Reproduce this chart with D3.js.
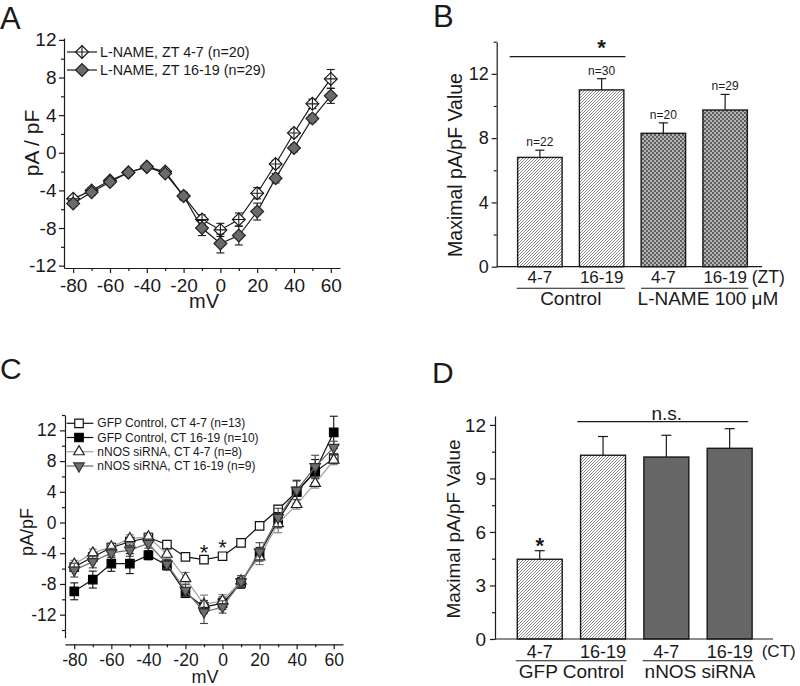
<!DOCTYPE html>
<html><head><meta charset="utf-8">
<script src="https://cdn.jsdelivr.net/npm/d3@7"></script>
<style>body{margin:0;background:#fff;} svg{display:block;font-family:"Liberation Sans",Arial,sans-serif;}</style>
</head><body><svg id="c" width="800" height="686"></svg>
<script>
// ---------- DATA ----------
const voltages = [-80,-70,-60,-50,-40,-30,-20,-10,0,10,20,30,40,50,60];
const voltMajor = [-80,-60,-40,-20,0,20,40,60];
const voltMinor = [-70,-50,-30,-10,10,30,50];

// Panel A
const aLabels = ["L-NAME, ZT 4-7 (n=20)", "L-NAME, ZT 16-19 (n=29)"];
const aZT47     = [-4.9,-4.0,-2.95,-2.1,-1.5,-2.0,-4.6,-7.1,-8.2,-7.1,-4.3,-1.2,2.1,5.2,7.85];
const aZT47Err  = [0.3,0.3,0.3,0.3,0.3,0.3,0.4,0.5,0.7,0.7,0.6,0.4,0.4,0.5,1.0];
const aZT1619   = [-5.4,-4.2,-3.1,-2.1,-1.5,-2.2,-4.6,-8.0,-9.65,-8.8,-6.25,-2.7,0.5,3.65,6.05];
const aZT1619Err= [0.3,0.3,0.3,0.3,0.3,0.3,0.4,0.8,1.0,1.0,0.9,0.5,0.4,0.4,0.8];
const aYMajor = [-12,-8,-4,0,4,8,12];
const aYMinor = [-10,-6,-2,2,6,10];

// Panel B
const bCats   = ["Control 4-7","Control 16-19","L-NAME 4-7","L-NAME 16-19"];
const bTicks  = ["4-7","16-19","4-7","16-19"];
const bValues = [6.8, 11.0, 8.3, 9.75];
const bErr    = [0.45, 0.7, 0.65, 0.97];
const bN      = ["n=22","n=30","n=20","n=29"];
const bGroups = ["Control","L-NAME 100 \u03BCM"];
const bYMajor = [0,4,8,12];
const bYMinor = [2,6,10,14];

// Panel C
const cLabels = ["GFP Control, CT 4-7 (n=13)","GFP Control, CT 16-19 (n=10)","nNOS siRNA, CT 4-7 (n=8)","nNOS siRNA, CT 16-19 (n=9)"];
const cGfp47      = [-5.8,-4.5,-3.26,-2.5,-1.96,-2.87,-4.48,-4.83,-4.39,-2.65,-0.43,1.7,4.0,6.6,8.35];
const cGfp47Err   = [0.5,0.5,0.5,0.5,0.4,0.4,0.4,0.4,0.4,0.4,0.4,0.5,0.6,0.8,0.6];
const cGfp1619    = [-8.96,-7.43,-5.35,-5.35,-4.26,-5.57,-9.17,-11.0,-10.5,-7.87,-4.04,0.3,4.0,6.7,11.74];
const cGfp1619Err = [1.1,1.1,1.0,1.3,0.6,0.6,0.6,0.8,0.8,0.7,0.8,1.0,1.5,1.5,2.1];
const cSi47       = [-5.43,-3.96,-3.17,-2.1,-1.87,-4.13,-7.3,-10.65,-10.2,-7.6,-4.48,-0.13,2.35,5.09,8.13];
const cSi47Err    = [0.5,0.5,0.5,0.5,0.5,0.6,0.8,1.2,0.8,0.7,1.0,1.2,0.6,0.6,0.6];
const cSi1619     = [-6.2,-5.1,-3.96,-3.6,-2.74,-5.43,-8.83,-11.65,-11.0,-7.74,-3.83,0.65,4.2,7.26,9.78];
const cSi1619Err  = [0.9,0.8,0.6,0.8,0.6,0.6,0.8,1.5,0.8,0.8,1.2,1.2,1.2,1.5,0.8];
const cStarVolts  = [-10, 0];
const cYMajor = [-12,-8,-4,0,4,8,12];
const cYMinor = [-14,-10,-6,-2,2,6,10,14];

// Panel D
const dCats   = ["GFP 4-7","GFP 16-19","nNOS 4-7","nNOS 16-19"];
const dTicks  = ["4-7","16-19","4-7","16-19"];
const dValues = [4.47, 10.3, 10.2, 10.69];
const dErr    = [0.48, 1.05, 1.22, 1.1];
const dGroups = ["GFP Control","nNOS siRNA"];
const dYMajor = [0,3,6,9,12];
const dYMinor = [1.5,4.5,7.5,10.5];

// ---------- SETUP ----------
const svg = d3.select("#c");
const defs = svg.append("defs");
const ph = defs.append("pattern").attr("id","hatch").attr("patternUnits","userSpaceOnUse").attr("width",3).attr("height",3);
ph.append("rect").attr("width",3).attr("height",3).attr("fill","#fff");
ph.append("path").attr("d","M-1,1 L1,-1 M0,3 L3,0 M2,4 L4,2").attr("stroke","#858585").attr("stroke-width",0.95);
const pc = defs.append("pattern").attr("id","checker").attr("patternUnits","userSpaceOnUse").attr("width",4).attr("height",4);
pc.append("rect").attr("width",4).attr("height",4).attr("fill","#b4b4b4");
pc.append("rect").attr("width",2).attr("height",2).attr("fill","#5e5e5e");
pc.append("rect").attr("x",2).attr("y",2).attr("width",2).attr("height",2).attr("fill","#5e5e5e");

const INK = "#1a1a1a";
function styleAxis(g, fs) {
  g.attr("font-family", null).attr("font-size", fs);
  g.selectAll(".domain").attr("stroke", INK).attr("stroke-width", 1.2);
  g.selectAll(".tick line").attr("stroke", INK).attr("stroke-width", 1.2);
  g.selectAll(".tick text").attr("fill", INK);
}
function leftAxis(y, x0, major, minor, fs, pad) {
  const a = svg.append("g").attr("transform", `translate(${x0},0)`)
    .call(d3.axisLeft(y).tickValues(major).tickSize(5).tickSizeOuter(0).tickPadding(pad).tickFormat(d => String(d)));
  styleAxis(a, fs);
  const m = svg.append("g").attr("transform", `translate(${x0},0)`)
    .call(d3.axisLeft(y).tickValues(minor).tickSize(3).tickFormat(""));
  m.select(".domain").remove(); styleAxis(m, fs);
}
function bottomAxis(x, y0, major, minor, fs, pad) {
  const a = svg.append("g").attr("transform", `translate(0,${y0})`)
    .call(d3.axisBottom(x).tickValues(major).tickSize(5).tickSizeOuter(0).tickPadding(pad).tickFormat(d => String(d)));
  styleAxis(a, fs);
  const m = svg.append("g").attr("transform", `translate(0,${y0})`)
    .call(d3.axisBottom(x).tickValues(minor).tickSize(3).tickFormat(""));
  m.select(".domain").remove(); styleAxis(m, fs);
}
function txt(x, y, s, fs, opt = {}) {
  const t = svg.append("text").attr("x", x).attr("y", y).attr("font-size", fs).attr("fill", INK).text(s);
  if (opt.anchor) t.attr("text-anchor", opt.anchor);
  if (opt.central !== false) t.attr("dominant-baseline", "central");
  if (opt.rotate) t.attr("transform", `rotate(-90,${x},${y})`);
  return t;
}
function errBars(g, xs, ys, errs, x, y, color, cap) {
  xs.forEach((v, i) => {
    const cx = x(v), y1 = y(ys[i] - errs[i]), y2 = y(ys[i] + errs[i]);
    g.append("line").attr("x1", cx).attr("x2", cx).attr("y1", y1).attr("y2", y2).attr("stroke", color).attr("stroke-width", 1.1);
    [y1, y2].forEach(yy => g.append("line").attr("x1", cx - cap/2).attr("x2", cx + cap/2).attr("y1", yy).attr("y2", yy).attr("stroke", color).attr("stroke-width", 1.1));
  });
}
function seriesLine(g, xs, ys, x, y, color) {
  g.append("path").datum(xs.map((v, i) => [v, ys[i]]))
    .attr("d", d3.line().x(d => x(d[0])).y(d => y(d[1])))
    .attr("fill", "none").attr("stroke", color).attr("stroke-width", 1.2);
}

// ---------- PANEL A ----------
const xA = d3.scaleLinear().domain([-85, 65]).range([64, 340]);
const yA = d3.scaleLinear().domain([-12.25, 12.2]).range([268, 38]);
leftAxis(yA, 64, aYMajor, aYMinor, 19, 2.5);
bottomAxis(xA, 268, voltMajor, voltMinor, 19, 5.8);
const gA = svg.append("g");
const diamond = d3.symbol(d3.symbolSquare, 82);
function openDiamond(g, cx, cy) {
  g.append("path").attr("d", diamond()).attr("transform", `translate(${cx},${cy}) rotate(45)`).attr("fill", "#fff").attr("stroke", INK).attr("stroke-width", 1.2);
  g.append("path").attr("d", `M${cx-6.4},${cy}H${cx+6.4}M${cx},${cy-6.4}V${cy+6.4}`).attr("stroke", INK).attr("stroke-width", 1.1);
}
function filledDiamond(g, cx, cy) {
  g.append("path").attr("d", diamond()).attr("transform", `translate(${cx},${cy}) rotate(45)`).attr("fill", "#6b6b6b").attr("stroke", "#222").attr("stroke-width", 1.2);
}
errBars(gA, voltages, aZT47, aZT47Err, xA, yA, INK, 8);
seriesLine(gA, voltages, aZT47, xA, yA, INK);
voltages.forEach((v, i) => openDiamond(gA, xA(v), yA(aZT47[i])));
errBars(gA, voltages, aZT1619, aZT1619Err, xA, yA, INK, 8);
seriesLine(gA, voltages, aZT1619, xA, yA, INK);
voltages.forEach((v, i) => filledDiamond(gA, xA(v), yA(aZT1619[i])));
// legend A
[52, 70].forEach((ly, i) => {
  gA.append("line").attr("x1", 67).attr("x2", 97).attr("y1", ly).attr("y2", ly).attr("stroke", INK).attr("stroke-width", 1.2);
  if (i === 0) openDiamond(gA, 82, ly); else filledDiamond(gA, 82, ly);
  txt(100, ly, aLabels[i], 14.3);
});
txt(31.5, 143, "pA / pF", 21, {anchor: "middle", rotate: true});
txt(204, 301, "mV", 20, {anchor: "middle"});
txt(0, 29, "A", 31, {central: false});

// ---------- PANEL B ----------
const yB = d3.scaleLinear().domain([0, 14]).range([266.7, 41.7]);
const xB = d3.scaleBand().domain(bCats).range([509, 756]).paddingInner(0.28).paddingOuter(0.14);
const bw = xB.bandwidth();
const gB = svg.append("g");
bCats.forEach((c, i) => {
  const cx = xB(c) + bw/2;
  gB.append("line").attr("x1", cx).attr("x2", cx).attr("y1", yB(bValues[i])).attr("y2", yB(bValues[i] + bErr[i])).attr("stroke", INK).attr("stroke-width", 1.2);
  gB.append("line").attr("x1", cx - 4.5).attr("x2", cx + 4.5).attr("y1", yB(bValues[i] + bErr[i])).attr("y2", yB(bValues[i] + bErr[i])).attr("stroke", INK).attr("stroke-width", 1.2);
  gB.append("rect").attr("x", xB(c)).attr("y", yB(bValues[i])).attr("width", bw).attr("height", yB(0) - yB(bValues[i]))
    .attr("fill", i < 2 ? "url(#hatch)" : "url(#checker)").attr("stroke", INK).attr("stroke-width", 1.4);
  txt(cx, yB(bValues[i] + bErr[i]) - 8, bN[i], 12, {anchor: "middle"});
  txt(cx, 277, bTicks[i], 17, {anchor: "middle"});
});
leftAxis(yB, 496.7, bYMajor, bYMinor, 18, 3);
gB.append("line").attr("x1", 496.7).attr("x2", 762).attr("y1", yB(0)).attr("y2", yB(0)).attr("stroke", INK).attr("stroke-width", 1.2);
txt(751.7, 277, "(ZT)", 17.5);
gB.append("line").attr("x1", xB(bCats[0]) - 1).attr("x2", xB(bCats[1]) + bw + 1).attr("y1", 288.3).attr("y2", 288.3).attr("stroke", INK).attr("stroke-width", 1.1);
gB.append("line").attr("x1", xB(bCats[2])).attr("x2", xB(bCats[3]) + bw + 1).attr("y1", 288.3).attr("y2", 288.3).attr("stroke", INK).attr("stroke-width", 1.1);
txt((xB(bCats[0]) + xB(bCats[1]) + bw) / 2, 298, bGroups[0], 19, {anchor: "middle"});
txt(708, 298, bGroups[1], 19, {anchor: "middle"});
gB.append("line").attr("x1", xB(bCats[0]) - 8).attr("x2", xB(bCats[1]) + bw + 1.5).attr("y1", yB(13.07)).attr("y2", yB(13.07)).attr("stroke", INK).attr("stroke-width", 1.2);
txt(xB(bCats[1]) + bw/2, 54.5, "*", 22, {anchor: "middle", central: false}).attr("font-weight", "bold");
txt(455, 165, "Maximal pA/pF Value", 19.5, {anchor: "middle", rotate: true});
txt(433, 27, "B", 31, {central: false});

// ---------- PANEL C ----------
const xC = d3.scaleLinear().domain([-85, 65]).range([65, 343]);
const yC = d3.scaleLinear().domain([-15, 14]).range([637.7, 415]);
leftAxis(yC, 65, cYMajor, cYMinor, 17.5, 3.5);
bottomAxis(xC, 644.3, voltMajor, voltMinor, 17.5, 4.2);
const gC = svg.append("g");
const sq = d3.symbol(d3.symbolSquare, 72);
const tri = d3.symbol(d3.symbolTriangle, 48);
const cSeries = [
  {v: cGfp47,   e: cGfp47Err,   line: "#111", err: "#111", sym: sq,  rot: 0,   fill: "#fff",    stroke: "#111"},
  {v: cGfp1619, e: cGfp1619Err, line: "#111", err: "#111", sym: sq,  rot: 0,   fill: "#000",    stroke: "#000"},
  {v: cSi47,    e: cSi47Err,    line: "#a0a0a0", err: "#777", sym: tri, rot: 0, fill: "#fff",   stroke: "#222"},
  {v: cSi1619,  e: cSi1619Err,  line: "#6a6a6a", err: "#444", sym: tri, rot: 180, fill: "#6e6e6e", stroke: "#333"}
];
cSeries.forEach(s => {
  errBars(gC, voltages, s.v, s.e, xC, yC, s.err, 8);
  seriesLine(gC, voltages, s.v, xC, yC, s.line);
  voltages.forEach((vv, i) => gC.append("path").attr("d", s.sym())
    .attr("transform", `translate(${xC(vv)},${yC(s.v[i])}) rotate(${s.rot})`)
    .attr("fill", s.fill).attr("stroke", s.stroke).attr("stroke-width", 1.2));
});
cStarVolts.forEach((vv, k) => {
  const i = voltages.indexOf(vv);
  txt(xC(vv), yC(cGfp47[i]) - (k === 0 ? 0 : 1.6), "*", 22, {anchor: "middle", central: false});
});
[423.3, 437.5, 451.7, 466].forEach((ly, i) => {
  const s = cSeries[i];
  gC.append("line").attr("x1", 66.7).attr("x2", 93.3).attr("y1", ly).attr("y2", ly).attr("stroke", s.line).attr("stroke-width", 1.2);
  gC.append("path").attr("d", s.sym()).attr("transform", `translate(79,${ly}) rotate(${s.rot})`)
    .attr("fill", s.fill).attr("stroke", s.stroke).attr("stroke-width", 1.2);
  txt(97.3, ly, cLabels[i], 12);
});
txt(27, 532, "pA/pF", 18, {anchor: "middle", rotate: true});
txt(205, 677, "mV", 18, {anchor: "middle"});
txt(0, 379, "C", 30, {central: false});

// ---------- PANEL D ----------
const yD = d3.scaleLinear().domain([0, 12.5]).range([639, 416]);
const xD = d3.scaleBand().domain(dCats).range([508.1, 761.3]).paddingInner(0.29).paddingOuter(0.145);
const dw = xD.bandwidth();
const gD = svg.append("g");
dCats.forEach((c, i) => {
  const cx = xD(c) + dw/2;
  gD.append("line").attr("x1", cx).attr("x2", cx).attr("y1", yD(dValues[i])).attr("y2", yD(dValues[i] + dErr[i])).attr("stroke", INK).attr("stroke-width", 1.2);
  gD.append("line").attr("x1", cx - 5).attr("x2", cx + 5).attr("y1", yD(dValues[i] + dErr[i])).attr("y2", yD(dValues[i] + dErr[i])).attr("stroke", INK).attr("stroke-width", 1.2);
  gD.append("rect").attr("x", xD(c)).attr("y", yD(dValues[i])).attr("width", dw).attr("height", yD(0) - yD(dValues[i]))
    .attr("fill", i < 2 ? "url(#hatch)" : "#666666").attr("stroke", INK).attr("stroke-width", 1.4);
  txt(cx, 651.5, dTicks[i], 18, {anchor: "middle"});
});
leftAxis(yD, 495, dYMajor, dYMinor, 19, 4);
gD.append("line").attr("x1", 495).attr("x2", 773).attr("y1", yD(0)).attr("y2", yD(0)).attr("stroke", INK).attr("stroke-width", 1.2);
txt(761.7, 651.5, "(CT)", 17);
gD.append("line").attr("x1", xD(dCats[0]) - 1.5).attr("x2", xD(dCats[1]) + dw + 1).attr("y1", 660.7).attr("y2", 660.7).attr("stroke", INK).attr("stroke-width", 1.1);
gD.append("line").attr("x1", xD(dCats[2]) - 1.3).attr("x2", xD(dCats[3]) + dw + 0.7).attr("y1", 660.7).attr("y2", 660.7).attr("stroke", INK).attr("stroke-width", 1.1);
txt((xD(dCats[0]) + xD(dCats[1]) + dw) / 2, 671, dGroups[0], 19, {anchor: "middle"});
txt(700, 671, dGroups[1], 19, {anchor: "middle"});
txt(xD(dCats[0]) + dw/2, yD(dValues[0] + dErr[0]) + 2, "*", 22, {anchor: "middle", central: false}).attr("font-weight", "bold");
gD.append("line").attr("x1", xD(dCats[1]) - 3.3).attr("x2", xD(dCats[3]) + dw - 4).attr("y1", yD(12.18)).attr("y2", yD(12.18)).attr("stroke", INK).attr("stroke-width", 1.2);
txt(666.7, 419.5, "n.s.", 19, {anchor: "middle", central: false});
txt(453.3, 529, "Maximal pA/pF Value", 19, {anchor: "middle", rotate: true});
txt(432, 383, "D", 30, {central: false});
</script></body></html>
